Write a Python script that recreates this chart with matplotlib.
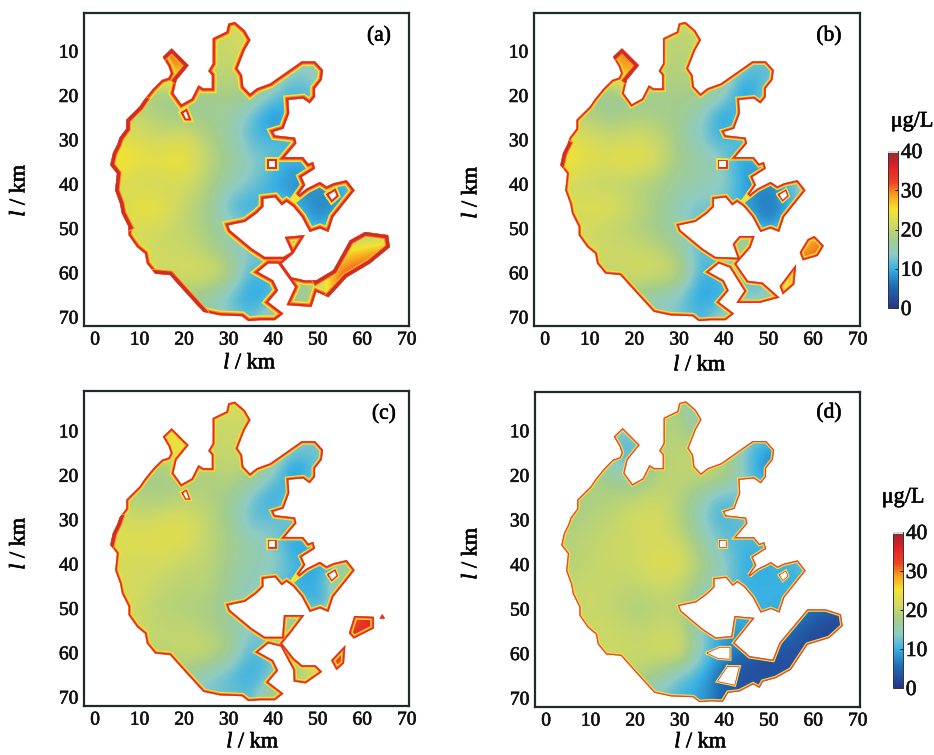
import matplotlib
matplotlib.use('Agg')
import matplotlib.pyplot as plt
import matplotlib.patheffects as pe
import numpy as np
from matplotlib.cm import ScalarMappable
from matplotlib.colors import LinearSegmentedColormap, Normalize
from matplotlib.patches import Polygon, Rectangle

plt.rcParams['font.family'] = ['Liberation Serif', 'DejaVu Serif']
plt.rcParams['mathtext.fontset'] = 'custom'
plt.rcParams['mathtext.it'] = 'Liberation Serif:italic'
plt.rcParams['mathtext.rm'] = 'Liberation Serif'

W, H = 934, 755

x_ticks = [0, 10, 20, 30, 40, 50, 60, 70]
y_ticks = [10, 20, 30, 40, 50, 60, 70]
cbar_ticks = [0, 10, 20, 30, 40]
grid_x = np.arange(0, 75, 5)
grid_y = np.arange(0, 75, 5)

# 湖岸线（km），西端 -> 北岸 -> 东岸
north_edge = [(3.4, 35.7), (4, 33), (5, 31), (5.5, 29.5), (7, 27.5), (7, 25.5), (8.5, 24), (10, 22.5), (11, 21),
              (13, 18.5), (15, 16.5), (16.5, 16), (17, 15), (16.5, 13.5), (15.2, 11.3), (17.2, 9.4), (21, 13.2),
              (18.3, 16.5), (17.6, 19.5), (19.4, 22), (21.7, 20.7), (23.2, 17.7), (24.3, 18.4), (26.2, 18.4),
              (26.2, 15.4), (25.4, 14.5), (26.4, 12.8), (26.4, 7.1), (29.5, 5.6), (29.9, 3.8), (31.4, 3.4),
              (33.6, 5.3), (34.9, 7.5), (33.6, 9.8), (32, 13.9), (33, 15.4), (33.3, 18), (34.8, 19.6), (36.3, 18.4),
              (39.3, 17.3), (43, 14.7), (46.4, 12.3), (49.4, 12.3), (51.2, 14.3), (50.9, 16.5), (49.4, 18.4),
              (49.4, 20.3), (48.2, 21.8), (46.7, 20.7), (43.4, 21), (43.6, 24), (42.3, 27.5), (40, 28.2), (40.4, 29),
              (44.9, 29.5), (45.2, 30.8), (42.6, 33.9), (45.2, 33.9), (46.7, 33.9), (47.9, 35.4), (49, 35),
              (49.4, 36.5), (46.4, 38.4), (47.2, 40.2), (45.6, 42.5), (47.5, 41), (50.5, 39.5), (52, 40.5),
              (53.5, 39.8), (56.5, 39.1), (58.3, 41.4), (53.5, 47.4), (52.4, 50.8), (50.5, 50), (48.2, 50.8),
              (46.4, 47.4), (44.5, 45.1), (43, 44), (41.9, 44.8), (40.4, 43), (37.8, 43.3), (37.8, 45.1), (36.3, 46.6),
              (33.7, 48.5), (29.9, 49.3), (30.3, 50.4), (35.2, 54.5), (38.1, 56.4)]
bay_edge = [(38.9, 57.9), (36.6, 59.8), (40, 61.7), (41.1, 64), (38.9, 66.6), (42.3, 69.2), (40.4, 70.7)]
south_edge = [(37, 70.7), (34.4, 70.9), (33, 69.8), (28, 69.6), (24.3, 68.8), (20.2, 64.3), (16.8, 60.5), (13.5, 60.2),
              (11.6, 57.9), (11.2, 55.7), (9.4, 54.2), (7.5, 51.5), (7.5, 49.6), (6, 46.6), (5.6, 44.4), (4.5, 41.4),
              (4.9, 37.6)]

se_a = [(42.3, 56.4), (44.1, 55.3), (42.6, 51.9), (47.1, 51.5), (44.5, 55.7), (41.9, 57.9), (44.1, 61), (47.1, 61.7),
        (49.7, 61.7), (53.5, 59.4), (57.2, 52.7), (60.6, 50.8), (65.8, 51.5), (66.2, 54.2), (61.7, 57.9), (56.5, 61),
        (52.4, 65.5), (49.7, 64.3), (48.6, 67.7), (43, 67.3), (44.9, 63.2), (41.1, 57.9)]
se_b = [(43.1, 56.6), (42, 53.5), (43.5, 51.7), (46.9, 51.7), (46, 54.3), (42.8, 58), (45.4, 61.8), (48.7, 62.2),
        (52.5, 65.6), (48, 66.8), (42.8, 66.8), (44.6, 64.1), (41.3, 58.8)]
se_c = [(42, 56.4), (42.4, 51.5), (47, 51.5), (43.9, 55.6), (42, 57.9), (44.7, 61.3), (46.5, 62.8), (49.5, 62.8),
        (51, 64.3), (47.3, 66.9), (44.6, 66.5), (44.5, 63.9), (41.7, 58.6)]
se_d = [(41.6, 56.1), (42.3, 51.6), (46.8, 52), (42.3, 57.6), (45.7, 60.6), (50.9, 61.4), (52.4, 57.6), (58.7, 50.1),
        (62.8, 50.1), (66.2, 51.2), (66.6, 53.8), (63.6, 56.5), (58.7, 58), (55, 63.6), (51.6, 65.5), (48.7, 66.3),
        (47.9, 67.7), (46.5, 66.9), (43.4, 68.5), (40.9, 68.8), (39.7, 70.8)]

islands_b = [[(57, 55.4), (58.8, 52.4), (60.3, 51.7), (62.4, 53.9), (61, 56.2), (57.7, 57.2)],
             [(52.5, 63), (56.2, 58.1), (55.8, 62.6), (53.2, 64.9)]]
islands_c = [[(57, 55.6), (58.2, 51.7), (62.6, 51.9), (62.6, 54.5), (58.1, 56.8)],
             [(53, 61.7), (56.2, 58.3), (55.9, 62.4), (54.2, 63.9)],
             [(63.9, 52.3), (64.5, 51.3), (65.1, 52.3)]]

hole_square = [(39, 34.7), (40.5, 34.7), (40.5, 36.2), (39, 36.2)]
hole_east = [(52.5, 42.4), (53.8, 41.6), (54.2, 42.6), (53.2, 43.5)]
hole_d1 = [(36.3, 59.9), (39, 58.7), (41.2, 58.7), (41.2, 61.2), (38.6, 61)]
hole_d2 = [(40.8, 63), (43.3, 63), (42.3, 67), (38.6, 66.2)]
hole_north = [(19.8, 24), (20.4, 23.6), (21, 25.2), (20.4, 25.2)]

# 浓度场（µg/L），每 5 km 读一个值，行为 l=0..70，列为 l=0..70
field_a = np.array([
    [20, 20, 20, 20, 20, 20, 22, 22, 20, 16, 14, 14, 14, 14, 14],
    [20, 20, 22, 24, 24, 21, 21, 23, 18, 16, 14, 14, 14, 14, 14],
    [20, 20, 22, 31, 33, 20, 21, 21, 17, 15, 14, 14, 14, 14, 14],
    [20, 20, 20, 26, 30, 19, 20, 20, 17, 13, 15, 19, 14, 14, 14],
    [20, 18, 18, 17, 16, 17, 18, 17, 13, 9, 12, 14, 14, 14, 14],
    [20, 20, 21, 18, 18, 17, 16, 12, 6, 12, 14, 14, 14, 14, 14],
    [25, 24, 22, 21, 23, 19, 16, 11, 11, 12, 14, 14, 14, 14, 14],
    [27, 26, 24, 24, 25, 20, 17, 14, 12, 9, 12, 14, 14, 14, 14],
    [24, 22, 21, 21, 22, 19, 15, 13, 9, 7, 8, 10, 14, 14, 14],
    [22, 22, 25, 24, 20, 18, 11, 9, 12, 11, 6, 8, 14, 14, 14],
    [22, 22, 22, 21, 20, 18, 15, 13, 14, 14, 8, 14, 14, 14, 14],
    [22, 22, 22, 21, 21, 19, 16, 12, 14, 20, 20, 25, 28, 31, 33],
    [22, 22, 22, 21, 22, 23, 20, 10, 12, 16, 22, 32, 32, 33, 33],
    [20, 20, 20, 19, 18, 16, 12, 8, 10, 15, 18, 34, 34, 34, 34],
    [21, 21, 19, 17, 16, 15, 14, 11, 18, 20, 20, 20, 20, 20, 20]])

field_b = np.array([
    [20, 20, 20, 20, 20, 20, 21, 24, 20, 16, 14, 14, 14, 14, 14],
    [20, 20, 20, 22, 22, 20, 20, 21, 18, 16, 14, 14, 14, 14, 14],
    [20, 20, 20, 30, 33, 20, 19, 20, 17, 14, 12, 12, 14, 14, 14],
    [20, 18, 18, 26, 30, 19, 19, 19, 17, 11, 11, 14, 14, 14, 14],
    [20, 18, 17, 16, 16, 17, 18, 17, 15, 5, 16, 14, 14, 14, 14],
    [20, 20, 19, 17, 19, 18, 17, 14, 7, 14, 14, 14, 14, 14, 14],
    [26, 24, 22, 21, 22, 21, 17, 13, 10, 13, 14, 14, 14, 14, 14],
    [26, 25, 23, 23, 24, 22, 17, 16, 14, 7, 12, 14, 14, 14, 14],
    [22, 22, 20, 20, 19, 18, 16, 15, 14, 9, 6, 12, 18, 18, 18],
    [22, 22, 23, 23, 20, 18, 14, 12, 13, 8, 6, 9, 18, 18, 18],
    [22, 22, 21, 20, 19, 17, 15, 11, 14, 14, 5, 14, 30, 32, 32],
    [22, 22, 22, 21, 21, 20, 17, 10, 14, 22, 24, 32, 28, 34, 34],
    [22, 22, 21, 20, 22, 22, 21, 9, 12, 13, 10, 30, 34, 34, 34],
    [20, 20, 19, 18, 17, 15, 13, 8, 10, 13, 12, 30, 32, 32, 32],
    [20, 20, 18, 16, 15, 14, 13, 10, 16, 18, 18, 18, 18, 18, 18]])

field_c = np.array([
    [21, 21, 21, 21, 21, 21, 23, 23, 20, 16, 14, 14, 14, 14, 14],
    [21, 21, 21, 22, 22, 21, 22, 21, 18, 16, 14, 14, 14, 14, 14],
    [21, 21, 21, 24, 26, 20, 21, 21, 17, 15, 13, 13, 14, 14, 14],
    [20, 20, 20, 21, 26, 20, 21, 20, 17, 12, 12, 14, 14, 14, 14],
    [20, 19, 18, 17, 18, 18, 20, 18, 14, 5, 14, 14, 14, 14, 14],
    [20, 20, 18, 18, 19, 19, 17, 13, 8, 14, 14, 14, 14, 14, 14],
    [23, 22, 21, 22, 23, 20, 17, 11, 12, 14, 14, 14, 14, 14, 14],
    [24, 23, 23, 23, 23, 20, 18, 15, 14, 7, 12, 14, 14, 14, 14],
    [22, 22, 21, 22, 20, 20, 17, 15, 14, 11, 8, 14, 18, 18, 18],
    [22, 22, 22, 20, 19, 20, 16, 14, 13, 9, 10, 18, 30, 34, 34],
    [22, 22, 21, 19, 19, 18, 16, 13, 14, 14, 8, 15, 35, 36, 36],
    [21, 21, 21, 20, 20, 19, 17, 13, 14, 22, 22, 34, 35, 36, 36],
    [21, 21, 20, 19, 21, 21, 18, 10, 12, 20, 24, 35, 35, 35, 35],
    [20, 20, 19, 18, 17, 14, 11, 9, 13, 18, 22, 35, 34, 34, 34],
    [20, 20, 18, 16, 14, 12, 13, 11, 20, 20, 20, 20, 20, 20, 20]])

field_d = np.array([
    [19, 19, 19, 19, 19, 19, 18, 15, 15, 14, 14, 14, 14, 14, 14],
    [19, 19, 19, 19, 19, 19, 18, 12, 15, 14, 14, 14, 14, 14, 14],
    [19, 19, 19, 14, 12, 19, 19, 15, 17, 14, 14, 14, 14, 14, 14],
    [19, 19, 19, 11, 10, 19, 20, 20, 19, 12, 7, 7, 14, 14, 14],
    [19, 19, 19, 16, 14, 19, 20, 20, 20, 12, 7, 9, 14, 14, 14],
    [19, 18, 18, 19, 20, 21, 19, 15, 10, 14, 14, 14, 14, 14, 14],
    [19, 18, 19, 20, 22, 22, 19, 13, 10, 13, 14, 14, 14, 14, 14],
    [19, 19, 20, 21, 21, 22, 21, 16, 12, 10, 11, 14, 14, 14, 14],
    [19, 19, 20, 21, 21, 23, 23, 18, 14, 9, 10, 10, 12, 14, 14],
    [19, 20, 21, 20, 20, 21, 20, 16, 13, 10, 10, 10, 12, 14, 14],
    [19, 20, 21, 20, 18, 19, 20, 12, 10, 11, 10, 10, 5, 3, 3],
    [19, 20, 21, 21, 20, 21, 21, 13, 8, 9, 9, 5, 2, 2, 2],
    [19, 20, 21, 21, 21, 21, 23, 13, 8, 5, 2, 3, 2, 2, 2],
    [19, 19, 20, 20, 19, 17, 12, 10, 4, 2, 3, 3, 3, 3, 3],
    [19, 19, 19, 18, 16, 13, 10, 9, 4, 4, 4, 4, 4, 4, 4]])

colors = [(0.0, '#2a3489'), (0.14, '#1f6db5'), (0.25, '#39b1e3'), (0.34, '#8dcbc4'), (0.44, '#a5cd8a'),
          (0.53, '#cfd963'), (0.63, '#f6e32f'), (0.72, '#f7a11f'), (0.80, '#ee4424'), (0.90, '#e21f26'),
          (1.0, '#8f2a2e')]
cmap = LinearSegmentedColormap.from_list('chl', colors)
norm = Normalize(0, 40)

# 扫描图的笔画偏粗
heavy = [pe.withStroke(linewidth=0.45, foreground='#111111')]


def px_axes(fig, left, top, right, bottom):
    return fig.add_axes([left / W, 1 - bottom / H, (right - left) / W, (bottom - top) / H])


def stroke(ax, pts, clip, widths, closed=True):
    # 岸边的高值带：外红内黄
    path = pts + pts[:1] if closed else pts
    for lw, c in widths:
        xs, ys = zip(*path)
        line, = ax.plot(xs, ys, color=c, lw=lw, solid_joinstyle='miter', zorder=3)
        if clip is not None:
            line.set_clip_path(clip)


def put_text(x, y, s, size, **kw):
    return fig.text(x / W, 1 - y / H, s, fontsize=size, ha='center', va='center', path_effects=heavy, **kw)


def draw_panel(frame, ylim, field, outlines, holes, label, label_xy, xlabel_xy, ylabel_xy, widths, hot=()):
    ax = px_axes(fig, *frame)
    for pts in outlines:
        im = ax.imshow(field, cmap=cmap, norm=norm, interpolation='bicubic', aspect='auto', zorder=2,
                       extent=[grid_x[0] - 2.5, grid_x[-1] + 2.5, grid_y[-1] + 2.5, grid_y[0] - 2.5])
        poly = Polygon(pts, closed=True, transform=ax.transData, fc='none', ec='none')
        ax.add_patch(poly)
        im.set_clip_path(poly)
        stroke(ax, pts, poly, widths)
        # 部分岸段浓度更高，红带更宽
        for seg in hot:
            stroke(ax, seg, poly, [(6.5, '#f58a20'), (5, '#d42a28')], closed=False)
    ax.set_xlim(-2.5, 70.5)
    ax.set_ylim(ylim)
    for pts in holes:
        stroke(ax, pts, None, [(widths[0][0] * 0.8, widths[0][1]), (widths[-1][0] * 0.9, widths[-1][1])])
        ax.add_patch(Polygon(pts, closed=True, fc='white', ec='none', zorder=4))
    ax.set_xticks(x_ticks)
    ax.set_yticks(y_ticks)
    ax.tick_params(length=0, labelsize=14, pad=4, colors='#111111')
    for t in ax.get_xticklabels() + ax.get_yticklabels():
        t.set_path_effects(heavy)
    for s in ax.spines.values():
        s.set_color('#1d2b2b')
        s.set_linewidth(1.6)
    put_text(*label_xy, label, 15.5)
    put_text(*xlabel_xy, r'$\mathit{l}$ / km', 16)
    put_text(*ylabel_xy, r'$\mathit{l}$ / km', 16, rotation=90)
    return ax


def draw_cbar(frame, unit_xy):
    cax = px_axes(fig, *frame)
    sm = ScalarMappable(norm=norm, cmap=cmap)
    cb = fig.colorbar(sm, cax=cax, ticks=cbar_ticks)
    cb.outline.set_edgecolor('#333333')
    cb.outline.set_linewidth(0.7)
    cax.tick_params(length=2, width=0.7, direction='in', labelsize=15.5, pad=2, colors='#111111')
    for t in cax.get_yticklabels():
        t.set_path_effects(heavy)
    cax.add_patch(Rectangle((0, 39.4), 1, 0.6, fc='#d8d8d8', ec='none', zorder=5))
    put_text(*unit_xy, 'μg/L', 16)


fig = plt.figure(figsize=(W / 100, H / 100), dpi=100)

thick = [(7, '#f5e236'), (4.8, '#f58a20'), (3.2, '#e42a26')]
medium = [(5, '#f5e236'), (3.4, '#f58a20'), (2.2, '#e42a26')]
thin = [(3.4, '#f3e24a'), (2, '#f28a30'), (1.2, '#e8362c')]

outline_a = north_edge + se_a + bay_edge + south_edge
outline_b = north_edge + se_b + bay_edge + south_edge
outline_c = north_edge + se_c + bay_edge + south_edge
outline_d = north_edge + se_d + south_edge

hot_a = [south_edge[12:] + north_edge[:9], north_edge[14:18], se_a[8:17], south_edge[4:8]]
hot_b = [north_edge[:3], north_edge[14:18]]
hot_c = [north_edge[:2] + north_edge[2:4]]

draw_panel((84, 13, 409, 326), (72, 1.4), field_a, [outline_a], [hole_square, hole_east, hole_north],
           '(a)', (379, 36), (250, 364), (20, 190), thick, hot_a)
draw_panel((534, 13, 860, 326), (72, 1.4), field_b, [outline_b] + islands_b, [hole_square, hole_east],
           '(b)', (829, 36), (700, 366), (472, 192), medium, hot_b)
draw_panel((84, 391, 409, 706), (72, 1.0), field_c, [outline_c] + islands_c, [hole_square, hole_east, hole_north],
           '(c)', (384, 414), (253, 743), (20, 543), medium, hot_c)
draw_panel((535, 392, 860, 707), (72, 1.3), field_d, [outline_d], [hole_square, hole_east, hole_d1, hole_d2],
           '(d)', (829, 413), (701, 743), (472, 553), thin)

draw_cbar((888, 151, 898, 308), (912, 122))
draw_cbar((893, 532, 903, 688), (903, 498))

fig.savefig('out.png', dpi=100)
